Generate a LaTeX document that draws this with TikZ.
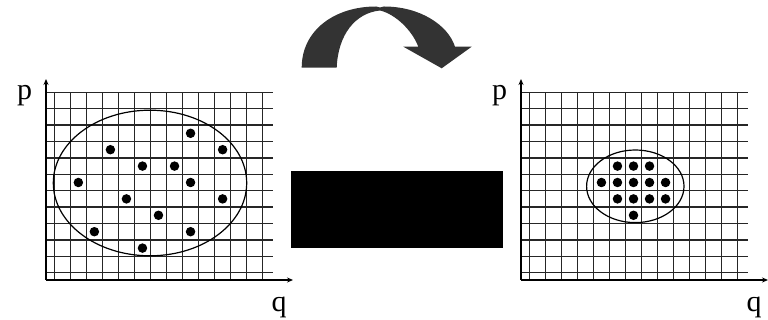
\documentclass[tikz,border=0pt]{standalone}
\usepackage{fontspec}
\setmainfont{Liberation Serif}
\usetikzlibrary{arrows.meta}

\begin{document}
\begin{tikzpicture}[
  x=1pt, y=-1pt,
  >={Stealth[length=6pt,width=5pt]},
  gridline/.style={draw=black!85, line width=1.5pt},
  axisline/.style={->, draw=black, line width=1.7pt},
  hull/.style={draw=black, line width=1.2pt},
  phasedot/.style={circle, fill=black, inner sep=0pt, minimum size=9.5pt},
  axislabel/.style={font=\fontsize{30}{30}\selectfont, inner sep=0pt, anchor=base},
  flipper/.style={fill=black!80},
  blocker/.style={fill=black}
]
  \useasboundingbox (0,0) rectangle (768,320);

  % two phase planes, the right one shifted
  \foreach \shift/\side in {0/l, 475/r} {
    \begin{scope}[xshift=\shift pt]
      \foreach \i in {0,...,13}
        \draw[gridline] ({54.3+16.03*\i},92.3) -- ({54.3+16.03*\i},280);
      \foreach \j in {0,...,11}
        \draw[gridline] (46,{92.3+16.4*\j}) -- (272.5,{92.3+16.4*\j});
      \coordinate (\side-origin) at (46,280);
      \coordinate (\side-ptip) at (46,79);
      \coordinate (\side-qtip) at (293,280);
      \draw[axisline] (\side-origin) -- (\side-ptip);
      \draw[axisline] (\side-origin) -- (\side-qtip);
      \node[axislabel] (\side-p) at (24.7,100) {p};
      \node[axislabel] (\side-q) at (279,312) {q};
    \end{scope}
  }

  % spread-out ensemble
  \draw[hull] (150,183) ellipse [x radius=96.7pt, y radius=72.8pt];
  \foreach \c/\r in {8/2, 3/3, 10/3, 5/4, 7/4, 1/5, 8/5, 4/6, 10/6, 6/7, 2/8, 8/8, 5/9}
    \node[phasedot] (l-\c-\r) at ({54.3+16.03*(\c+0.5)},{92.3+16.4*(\r+0.5)}) {};

  % squeezed ensemble
  \draw[hull] (635.3,186.3) ellipse [x radius=48.7pt, y radius=36.3pt];
  \foreach \c/\r in {5/4, 6/4, 7/4, 4/5, 5/5, 6/5, 7/5, 8/5, 5/6, 6/6, 7/6, 8/6, 6/7}
    \node[phasedot] (r-\c-\r) at ({475+54.3+16.03*(\c+0.5)},{92.3+16.4*(\r+0.5)}) {};

  % hidden map and curved arrow
  \fill[blocker] (291,171) rectangle (503,248);
  \fill[flipper] (301.7,67.7) .. controls (301.7,30) and (335,6.5) .. (376,6.5)
    -- (380,7.5) -- (384,6.5) .. controls (420,6.5) and (448,25) .. (455,46.7)
    -- (471.7,46.7) -- (441.7,68.3) -- (403.3,46.7) -- (418.3,46.7)
    .. controls (412,30) and (395,14) .. (380,10.5)
    .. controls (355,13) and (338,35) .. (336.7,67.7) -- cycle;
\end{tikzpicture}
\end{document}
